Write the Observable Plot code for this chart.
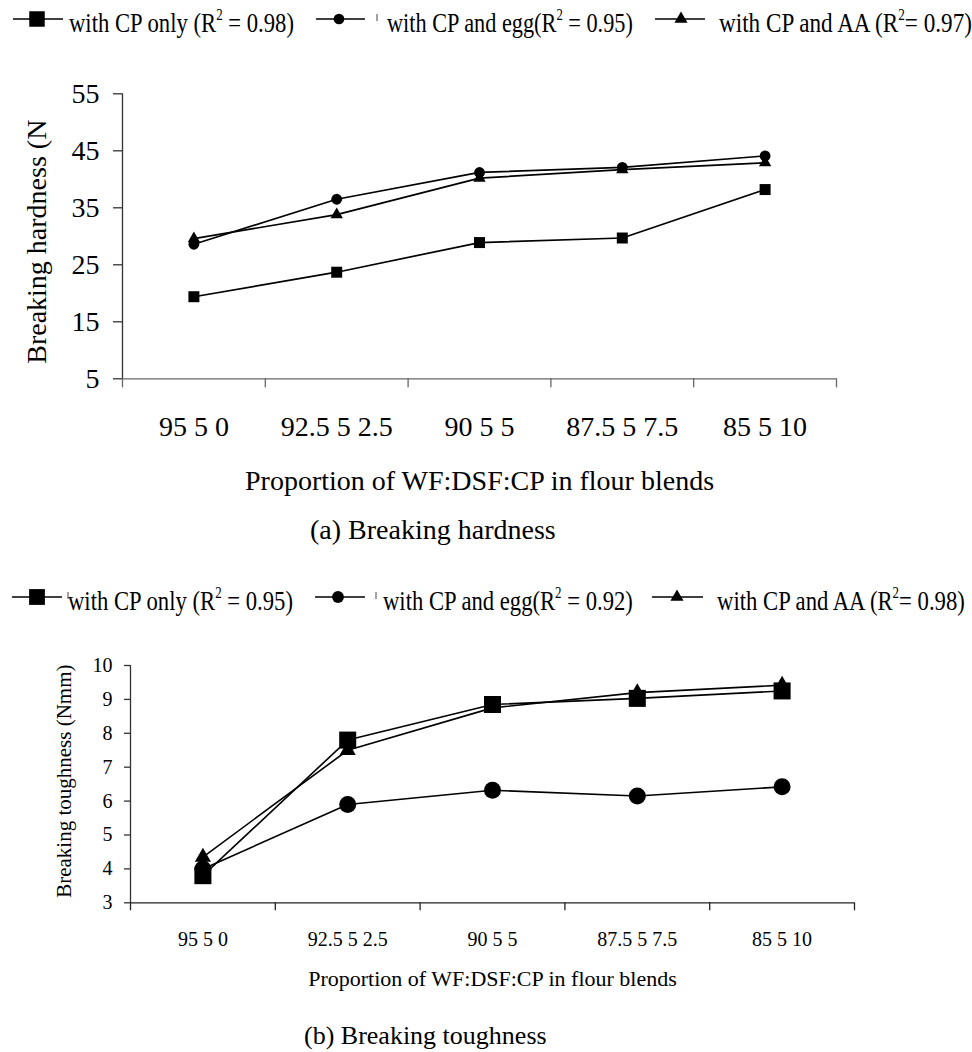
<!DOCTYPE html>
<html><head><meta charset="utf-8">
<script src="https://cdn.jsdelivr.net/npm/d3@7"></script>
<script src="https://cdn.jsdelivr.net/npm/@observablehq/plot@0.6"></script>
<style>
html,body{margin:0;padding:0;background:#fff;}
#root{position:relative;width:972px;height:1052px;overflow:hidden;background:#fff;}
#root svg{position:absolute;left:0;}
</style></head><body><div id="root"></div>
<script>
// ---------- data ----------
const categories = ["95 5 0", "92.5 5 2.5", "90 5 5", "87.5 5 7.5", "85 5 10"];

const hardnessCPOnly = [19.4, 23.7, 28.9, 29.7, 38.2];
const hardnessCPEgg  = [28.6, 36.5, 41.2, 42.1, 44.1];
const hardnessCPAA   = [29.6, 33.8, 40.2, 41.7, 42.9];
const hardnessTicks  = [5, 15, 25, 35, 45, 55];

const toughnessCPOnly = [3.8, 7.8, 8.85, 9.03, 9.25];
const toughnessCPEgg  = [4.0, 5.9, 6.32, 6.15, 6.42];
const toughnessCPAA   = [4.35, 7.5, 8.75, 9.2, 9.42];
const toughnessTicks  = [3, 4, 5, 6, 7, 8, 9, 10];

const legendPrefix  = ["with CP only (R", "with CP and egg(R", "with CP and AA (R"];
const legendSuffixA = [" = 0.98)", " = 0.95)", "= 0.97)"];
const legendSuffixB = [" = 0.95)", " = 0.92)", "= 0.98)"];
const legendSymbols = ["square", "circle", "triangle"];

const xTitle = "Proportion of WF:DSF:CP in flour blends";
const yTitleA = "Breaking hardness (N";
const yTitleB = "Breaking toughness (Nmm)";
const captions = ["(a) Breaking hardness", "(b) Breaking toughness"];

// ---------- drawing ----------
const FONT = '"Liberation Serif","Times New Roman",Times,serif';
const root = document.getElementById("root");
const rowsOf = vals => categories.map((c, i) => ({i, c, v: vals[i]}));

function makePanel(p) {
  const idx = categories.map((_, i) => i);
  const bounds = d3.range(categories.length + 1).map(k => k - 0.5);
  const series = [
    {vals: p.aa, symbol: "triangle", r: p.rTri},
    {vals: p.egg, symbol: "circle", r: p.rCirc},
    {vals: p.cp, symbol: "square", r: p.rSq}
  ];
  const marks = [
    Plot.ruleY([p.yDomain[0]], {stroke: p.xAxisColor, strokeWidth: 1.3}),
    Plot.ruleX([-0.5], {stroke: p.yAxisColor, strokeWidth: 1.3}),
    Plot.axisY({ticks: p.yTicks, tickSize: p.yTickSize, tickPadding: p.yTickPadding,
      tickFormat: d => String(d),
      fontSize: p.tickFont, stroke: p.yAxisColor, strokeWidth: 1.3, fill: "black", label: null}),
    Plot.axisX({ticks: bounds, tickSize: p.xTickSize, tickFormat: () => "",
      stroke: p.xAxisColor, strokeWidth: 1.3, label: null}),
    Plot.axisX({ticks: idx, tickSize: 0, tickPadding: p.xLabelOffset, tickFormat: i => categories[i],
      fontSize: p.xTickFont, fill: "black", label: null}),
    Plot.text([p.xTitle], {text: d => d, frameAnchor: "bottom", lineAnchor: "bottom",
      dy: p.xTitleDy, fontSize: p.xTitleFont, fill: "black"}),
    Plot.text([p.yTitle], {text: d => d, frameAnchor: p.yTitleAnchor, rotate: -90,
      textAnchor: p.yTitleTextAnchor, lineAnchor: "middle", dx: p.yTitleDx, dy: p.yTitleDy,
      fontSize: p.yTitleFont, fill: "black"})
  ];
  for (const s of series) marks.push(Plot.line(rowsOf(s.vals), {x: "i", y: "v", stroke: "black", strokeWidth: p.lineWidth}));
  for (const s of series) marks.push(Plot.dot(rowsOf(s.vals), {x: "i", y: "v", symbol: s.symbol, r: s.r, fill: "black", stroke: "none"}));

  const svg = Plot.plot({
    width: 972, height: p.height,
    marginLeft: p.ml, marginRight: p.mr, marginTop: p.mt, marginBottom: p.mb,
    style: {fontFamily: FONT, background: "transparent", color: "black", overflow: "visible"},
    x: {type: "linear", domain: [-0.5, categories.length - 0.5]},
    y: {type: "linear", domain: p.yDomain},
    marks
  });
  svg.style.top = p.top + "px";
  root.appendChild(svg);
}

// Panel (a)
makePanel({
  top: 45, height: 455, ml: 122, mr: 136, mt: 48.3, mb: 121.7,
  yDomain: [5, 55], yTicks: hardnessTicks,
  cp: hardnessCPOnly, egg: hardnessCPEgg, aa: hardnessCPAA,
  rSq: 6.2, rCirc: 5.4, rTri: 4.6, lineWidth: 1.7,
  xAxisColor: "#666", yAxisColor: "#333",
  yTickSize: 9, yTickPadding: 14, tickFont: 28,
  xTickSize: 9, xLabelOffset: 37, xTickFont: 28,
  xTitle: xTitle, xTitleDy: 110.7, xTitleFont: 28,
  yTitle: yTitleA, yTitleAnchor: "bottom-left", yTitleTextAnchor: "start",
  yTitleDx: -85, yTitleDy: -15, yTitleFont: 28
});

// Panel (b)
makePanel({
  top: 620, height: 380, ml: 130, mr: 118, mt: 45, mb: 97.7,
  yDomain: [3, 10], yTicks: toughnessTicks,
  cp: toughnessCPOnly, egg: toughnessCPEgg, aa: toughnessCPAA,
  rSq: 9.6, rCirc: 8.5, rTri: 6, lineWidth: 1.6,
  xAxisColor: "#222", yAxisColor: "#333",
  yTickSize: 6, yTickPadding: 12, tickFont: 20,
  xTickSize: 8, xLabelOffset: 28.5, xTickFont: 20,
  xTitle: xTitle, xTitleDy: 82.7, xTitleFont: 22,
  yTitle: yTitleB, yTitleAnchor: "left", yTitleTextAnchor: "middle",
  yTitleDx: -66, yTitleDy: -3, yTitleFont: 21
});

// ---------- legends & captions overlay ----------
const overlay = d3.create("svg").attr("width", 972).attr("height", 1052)
  .style("top", "0px").style("font-family", FONT).style("pointer-events", "none");
root.appendChild(overlay.node());

const symbolType = {square: d3.symbolSquare, circle: d3.symbolCircle, triangle: d3.symbolTriangle};

function legend(cfg, suffixes) {
  legendPrefix.forEach((pre, k) => {
    const [x1, x2] = cfg.lines[k];
    overlay.append("line").attr("x1", x1).attr("x2", x2).attr("y1", cfg.my).attr("y2", cfg.my)
      .attr("stroke", "black").attr("stroke-width", 1.7);
    overlay.append("path").attr("transform", `translate(${cfg.mx[k]},${cfg.my})`)
      .attr("d", d3.symbol(symbolType[legendSymbols[k]], cfg.sizes[k])()).attr("fill", "black");
    const g = overlay.append("g");
    const t = g.append("text").attr("x", 0).attr("y", 0).attr("font-size", 28).attr("fill", "black");
    t.append("tspan").text(pre);
    t.append("tspan").attr("dy", -12).attr("font-size", 16).text("2");
    t.append("tspan").attr("dy", 12).text(suffixes[k]);
    const w = t.node().getBBox().width;
    g.attr("transform", `translate(${cfg.tx[k]},${cfg.baseline}) scale(${cfg.tw[k] / w},1)`);
  });
  cfg.stray.forEach(sx => overlay.append("line").attr("x1", sx).attr("x2", sx)
    .attr("y1", cfg.my - 5).attr("y2", cfg.my + 2).attr("stroke", "#444").attr("stroke-width", 1));
}

legend({
  my: 19, baseline: 32,
  lines: [[13, 63], [316, 365], [655, 705]], mx: [37, 339, 681],
  sizes: [240, 90, 75], tx: [69, 387, 719], tw: [225, 246, 253], stray: [377]
}, legendSuffixA);

legend({
  my: 597, baseline: 610,
  lines: [[12, 62], [315, 365], [652, 703]], mx: [37, 338, 677],
  sizes: [250, 110, 75], tx: [68, 383, 717], tw: [225, 250, 248], stray: [68, 376]
}, legendSuffixB);

overlay.append("text").attr("x", 310).attr("y", 539).attr("font-size", 28).attr("fill", "black").text(captions[0]);
overlay.append("text").attr("x", 304).attr("y", 1044).attr("font-size", 26).attr("fill", "black").text(captions[1]);
</script>
</body></html>
